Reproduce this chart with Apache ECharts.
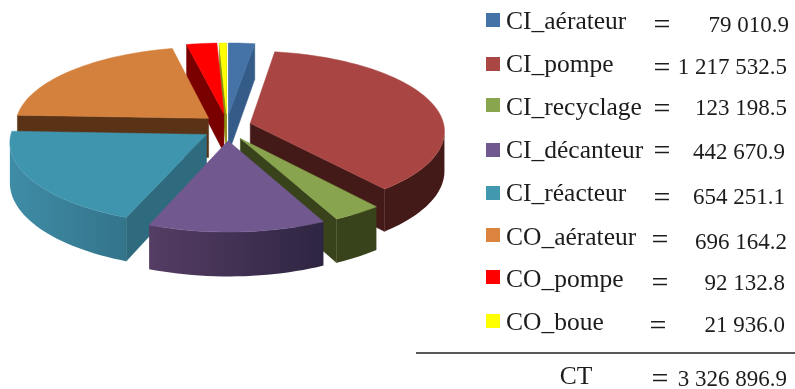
<!DOCTYPE html>
<html><head><meta charset="utf-8">
<style>html,body{margin:0;padding:0;background:#fff}#c{width:795px;height:389px;filter:blur(0.45px)}</style>
<script src="https://cdn.jsdelivr.net/npm/echarts@6/dist/echarts.min.js"></script>
</head><body><div id="c"></div>
<script>
// ---- data ----
const categories = ['CI_aérateur','CI_pompe','CI_recyclage','CI_décanteur','CI_réacteur','CO_aérateur','CO_pompe','CO_boue'];
const values = [79010.9,1217532.5,123198.5,442670.9,654251.1,696164.2,92132.8,21936.0];
const totalLabel = 'CT';
const totalValue = 3326896.9;
// ---- styles ----
const topColors = ['#4572a7','#a94643','#88a44e','#71588f','#4095ae','#d4813d','#ff0000','#ffff00'];
const cutColors = ['#355c88','#441a18','#38431c','#453558','#2e6b7e','#5a3216','#7a0000','#8f8f10'];
const wallLeft  = ['#355c88','#441a18','#38431c','#553d63','#3f8ca6','#5a3216','#7a0000','#8f8f10'];
const wallRight = ['#355c88','#441a18','#38431c','#2e2542','#33748a','#5a3216','#7a0000','#8f8f10'];
const legendColors = ['#4572a7','#aa4643','#89a54e','#71588f','#4198af','#db843d','#ff0000','#ffff00'];
// ---- layout ----
const labelY = [22,65,108,151,194,238,280,323];
const swatchY = [13,57,98,143,186,228,270,314];
const eqY = [26,69,110,152,199,241,284,327];
const valueY = [26,68,109,153,198,243,284,326];
const valueRight = [789,787,787,785,785,787,785,785];
const eqX = [662,662,662,662,662,660,660,658];
const pie = {cx:227, cy:127, a:194, b:79.8, py:0.095, px:0.09, h:39.5, explodeX:0.125, explodeY:0.17};

const total = values.reduce((s,v)=>s+v,0);
const fmt = v => { const [i,d] = v.toFixed(1).split('.'); return i.replace(/\B(?=(\d{3})+$)/g,' ') + '.' + d; };

function project(x,y,h){
  const sy = 1/(1+pie.py*y), sx = 1/(1+pie.px*y);
  return [pie.cx+pie.a*x*sx, pie.cy-pie.b*y*sy+(h?pie.h*sy:0)];
}
const spans = []; let acc = 0;
values.forEach(v=>{ const st=acc/total*2*Math.PI; acc+=v; spans.push([st,acc/total*2*Math.PI]); });
const depth = spans.map(s=>Math.cos((s[0]+s[1])/2));
const order = depth.map((d,i)=>[d,i]).sort((a,b)=>b[0]-a[0]).map(o=>o[1]);

function renderSlice(params, api){
  const i = params.dataIndex, rank = order.indexOf(i);
  api.value(0);
  const [a0,a1] = spans[i], mid=(a0+a1)/2;
  const ox = Math.sin(mid)*pie.explodeX, oy = Math.cos(mid)*pie.explodeY;
  const n = Math.max(2,Math.ceil((a1-a0)/(2*Math.PI/180)));
  const pts = [[ox,oy]];
  for(let k=0;k<=n;k++){ const t=a0+(a1-a0)*k/n; pts.push([ox+Math.sin(t),oy+Math.cos(t)]); }
  const top = pts.map(p=>project(p[0],p[1],false));
  const bot = pts.map(p=>project(p[0],p[1],true));
  const kids = [];
  // straight cut faces: visible when the edge runs right-to-left on screen
  [[0,1],[pts.length-1,0]].forEach(([k,q])=>{
    if(top[q][0]-top[k][0] >= 0) return;
    kids.push({type:'polygon',z2:rank*10+1,shape:{points:[top[k],top[q],bot[q],bot[k]]},
      style:{fill:cutColors[i],stroke:cutColors[i],lineWidth:0.5}});
  });
  // outer curved wall: one polygon over the front-facing run of the arc
  const run = [];
  for(let k=1;k<pts.length-1;k++) if(top[k+1][0]-top[k][0] < 0){ if(!run.length) run.push(k); run.push(k+1); }
  if(run.length){
    const up = run.map(k=>top[k]), lo = run.map(k=>bot[k]).reverse();
    const xs = up.map(p=>p[0]), x0=Math.min(...xs), x1=Math.max(...xs);
    const fill = new echarts.graphic.LinearGradient(x0,0,x1,0,
      [{offset:0,color:wallLeft[i]},{offset:1,color:wallRight[i]}],true);
    kids.push({type:'polygon',z2:rank*10+2,shape:{points:up.concat(lo)},style:{fill:fill}});
  }
  kids.push({type:'polygon',z2:rank*10+5,shape:{points:top},style:{fill:topColors[i],stroke:topColors[i],lineWidth:0.5}});
  return {type:'group',children:kids};
}

const graphic = [];
const serif = '"Liberation Serif","Times New Roman",serif';
categories.forEach((c,i)=>{
  graphic.push({type:'rect',shape:{x:486,y:swatchY[i],width:14,height:14},style:{fill:legendColors[i]}});
  graphic.push({type:'text',x:506,y:labelY[i],style:{text:c,font:'25.5px '+serif,fill:'#1c1c1c',textVerticalAlign:'middle'}});
  graphic.push({type:'text',x:eqX[i],y:eqY[i],style:{text:'=',font:'30px '+serif,fill:'#1c1c1c',textAlign:'center',textVerticalAlign:'middle'}});
  graphic.push({type:'text',x:valueRight[i],y:valueY[i],style:{text:fmt(values[i]),font:'23px '+serif,fill:'#1c1c1c',textAlign:'right',textVerticalAlign:'middle'}});
});
graphic.push({type:'line',shape:{x1:416,y1:353,x2:795,y2:353},style:{stroke:'#222',lineWidth:1.5}});
graphic.push({type:'text',x:576,y:377,style:{text:totalLabel,font:'25.5px '+serif,fill:'#1c1c1c',textAlign:'center',textVerticalAlign:'middle'}});
graphic.push({type:'text',x:660,y:380,style:{text:'=',font:'30px '+serif,fill:'#1c1c1c',textAlign:'center',textVerticalAlign:'middle'}});
graphic.push({type:'text',x:787,y:380,style:{text:fmt(totalValue),font:'23px '+serif,fill:'#1c1c1c',textAlign:'right',textVerticalAlign:'middle'}});

const chart = echarts.init(document.getElementById('c'),null,{renderer:'canvas'});
chart.setOption({
  animation:false,
  backgroundColor:'#fff',
  graphic:graphic,
  series:[{type:'custom',coordinateSystem:'none',renderItem:renderSlice,
    data:categories.map((c,i)=>({name:c,value:[values[i]]}))}]
});
</script></body></html>
